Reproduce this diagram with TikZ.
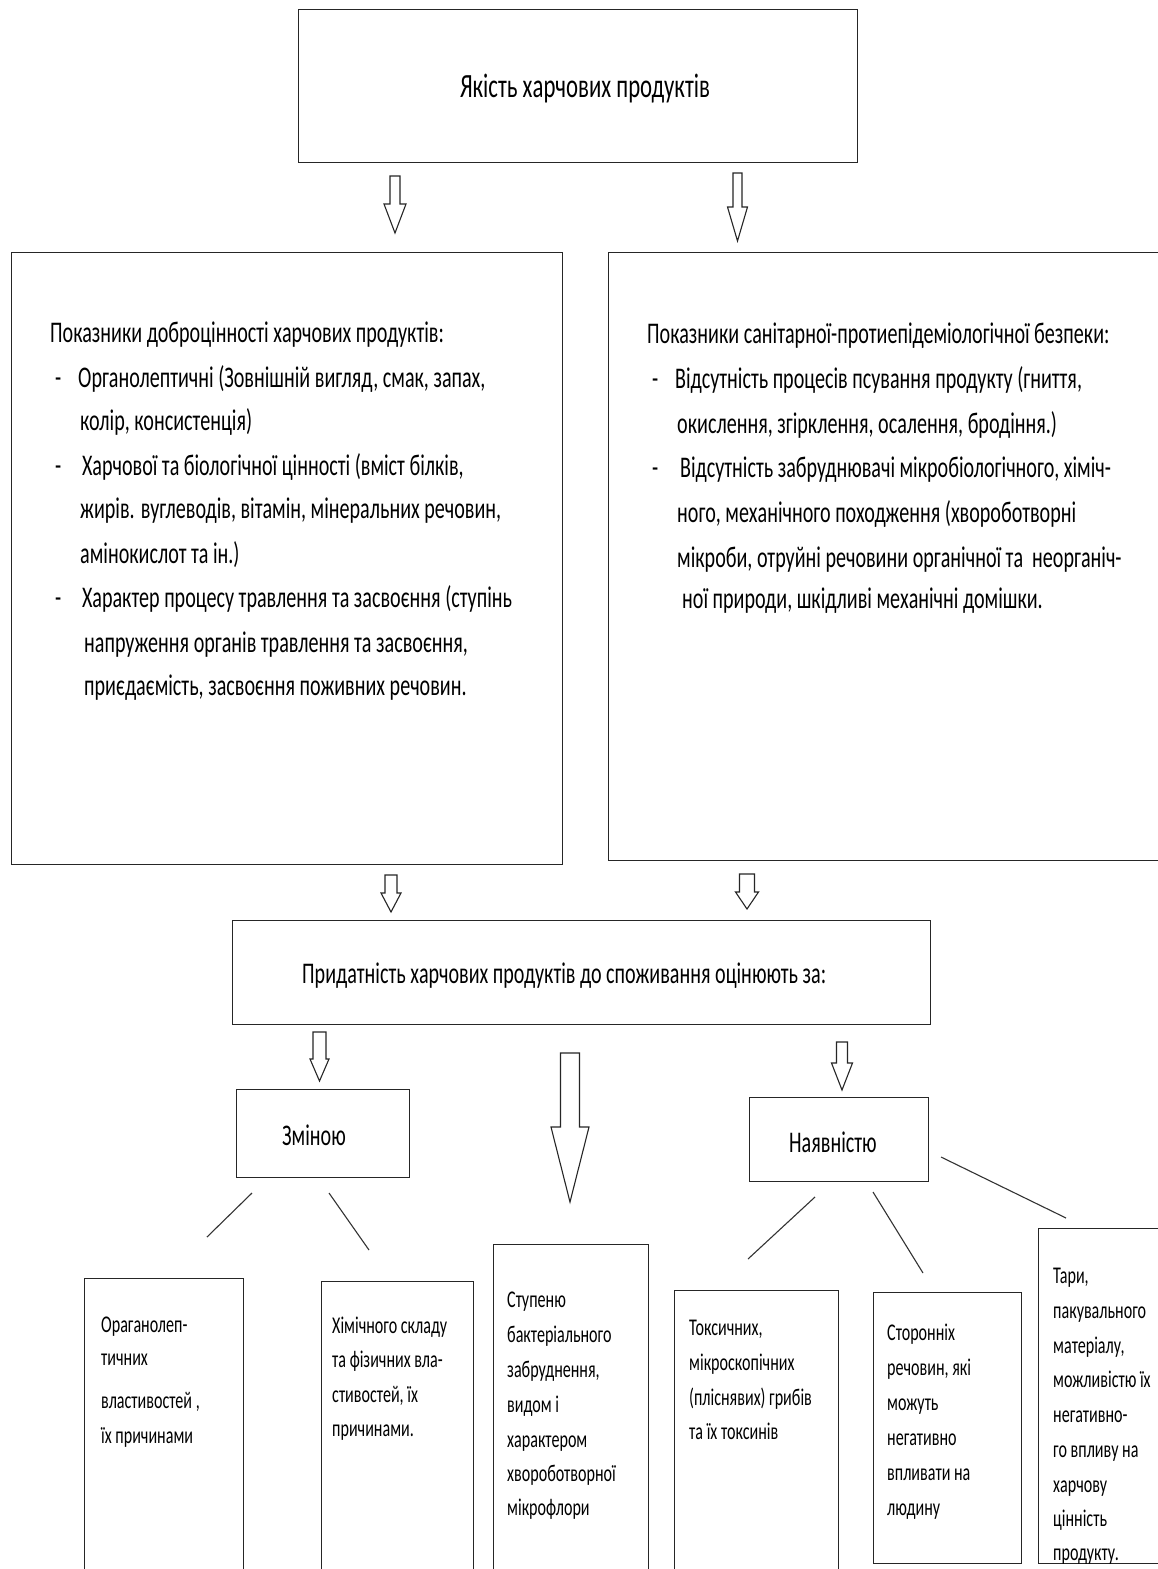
\documentclass[tikz,border=0pt]{standalone}
\usepackage{fontspec}
\setmainfont{Carlito}[FakeStretch=0.67]
\begin{document}
\begin{tikzpicture}[x=1pt,y=-1pt,
  box/.style={draw=black!85,line width=1.4pt,inner sep=0pt,anchor=north west},
  arr/.style={draw=black!85,line width=1.1pt,fill=white,line join=miter},
  link/.style={draw=black!80,line width=1.1pt},
  big/.style={font=\fontsize{30}{36}\selectfont,anchor=base west,inner sep=0pt},
  ttl/.style={font=\fontsize{34}{40}\selectfont,anchor=base,inner sep=0pt},
  sm/.style={font=\fontsize{24}{28}\selectfont,anchor=base west,inner sep=0pt}]
\useasboundingbox (0,0) rectangle (1158,1569);
\fill[white] (0,0) rectangle (1158,1569);
\newcommand\barrow[6]{\draw[arr] (#1-#5,#2) -- (#1+#5,#2) -- (#1+#5,#3) -- (#1+#6,#3) -- (#1,#4) -- (#1-#6,#3) -- (#1-#5,#3) -- cycle;}
% boxes
\node[box,minimum width=559pt,minimum height=153pt] (top) at (298,9) {};
\node[box,minimum width=551pt,minimum height=612pt] (left) at (11,252) {};
\node[box,minimum width=570pt,minimum height=608pt] (right) at (608,252) {};
\node[box,minimum width=698pt,minimum height=104pt] (mid) at (232,920) {};
\node[box,minimum width=173pt,minimum height=88pt] (zmin) at (236,1089) {};
\node[box,minimum width=179pt,minimum height=84pt] (nayav) at (749,1097) {};
\node[box,minimum width=159pt,minimum height=310pt] (b1) at (84,1278) {};
\node[box,minimum width=152pt,minimum height=310pt] (b2) at (321,1281) {};
\node[box,minimum width=155pt,minimum height=340pt] (b3) at (493,1244) {};
\node[box,minimum width=164pt,minimum height=300pt] (b4) at (674,1290) {};
\node[box,minimum width=148pt,minimum height=271pt] (b5) at (873,1292) {};
\node[box,minimum width=140pt,minimum height=335pt] (b6) at (1038,1228) {};
% title
\node[ttl] (t0) at (585,97) {Якість харчових продуктів};
% left text
\node[big] (l1) at (50,342) {Показники доброцінності харчових продуктів:};
\node[big] (l2d) at (55,387) {-};
\node[big] (l2) at (78,387) {Органолептичні (Зовнішній вигляд, смак, запах,};
\node[big] (l3) at (80,430) {колір, консистенція)};
\node[big] (l4d) at (55,475) {-};
\node[big] (l4) at (82,475) {Харчової та біологічної цінності (вміст білків,};
\node[big] (l5) at (80,518) {жирів. вуглеводів, вітамін, мінеральних речовин,};
\node[big] (l6) at (80,563) {амінокислот та ін.)};
\node[big] (l7d) at (55,607) {-};
\node[big] (l7) at (82,607) {Характер процесу травлення та засвоєння (ступінь};
\node[big] (l8) at (84,652) {напруження органів травлення та засвоєння,};
\node[big] (l9) at (84,695) {приєдаємість, засвоєння поживних речовин.};
% right text
\node[big] (r1) at (647,343) {Показники санітарної-протиепідеміологічної безпеки:};
\node[big] (r2d) at (652,388) {-};
\node[big] (r2) at (675,388) {Відсутність процесів псування продукту (гниття,};
\node[big] (r3) at (677,433) {окислення, згірклення, осалення, бродіння.)};
\node[big] (r4d) at (652,477) {-};
\node[big] (r4) at (680,477) {Відсутність забруднювачі мікробіологічного, хіміч-};
\node[big] (r5) at (677,522) {ного, механічного походження (хвороботворні};
\node[big] (r6) at (677,567) {мікроби, отруйні речовини органічної та\ \ неорганіч-};
\node[big] (r7) at (682,608) {ної природи, шкідливі механічні домішки.};
% middle
\node[big] (m1) at (302,983) {Придатність харчових продуктів до споживання оцінюють за:};
\node[big] (z1) at (282,1145) {Зміною};
\node[big] (n1) at (789,1152) {Наявністю};
% bottom texts
\node[sm] (a1) at (101,1332) {Ораганолеп-};
\node[sm] (a2) at (101,1365) {тичних};
\node[sm] (a3) at (101,1408) {властивостей ,};
\node[sm] (a4) at (101,1443) {їх причинами};
\node[sm] (c1) at (332,1333) {Хімічного складу};
\node[sm] (c2) at (332,1367) {та фізичних вла-};
\node[sm] (c3) at (332,1402) {стивостей, їх};
\node[sm] (c4) at (332,1436) {причинами.};
\node[sm] (s1) at (507,1307) {Ступеню};
\node[sm] (s2) at (507,1342) {бактеріального};
\node[sm] (s3) at (507,1377) {забруднення,};
\node[sm] (s4) at (507,1412) {видом і};
\node[sm] (s5) at (507,1447) {характером};
\node[sm] (s6) at (507,1481) {хвороботворної};
\node[sm] (s7) at (507,1515) {мікрофлори};
\node[sm] (k1) at (689,1335) {Токсичних,};
\node[sm] (k2) at (689,1370) {мікроскопічних};
\node[sm] (k3) at (689,1405) {(пліснявих) грибів};
\node[sm] (k4) at (689,1439) {та їх токсинів};
\node[sm] (o1) at (887,1340) {Сторонніх};
\node[sm] (o2) at (887,1375) {речовин, які};
\node[sm] (o3) at (887,1410) {можуть};
\node[sm] (o4) at (887,1445) {негативно};
\node[sm] (o5) at (887,1480) {впливати на};
\node[sm] (o6) at (887,1515) {людину};
\node[sm] (p1) at (1053,1283) {Тари,};
\node[sm] (p2) at (1053,1318) {пакувального};
\node[sm] (p3) at (1053,1353) {матеріалу,};
\node[sm] (p4) at (1053,1387) {можливістю їх};
\node[sm] (p5) at (1053,1422) {негативно-};
\node[sm] (p6) at (1053,1457) {го впливу на};
\node[sm] (p7) at (1053,1492) {харчову};
\node[sm] (p8) at (1053,1526) {цінність};
\node[sm] (p9) at (1053,1560) {продукту.};
% block arrows
\barrow{395}{176}{204}{233}{5}{11}
\barrow{737.5}{173}{207}{241}{4.5}{10}
\barrow{391}{875}{893}{912}{6}{10}
\barrow{747}{874}{892}{909}{7.5}{11.5}
\barrow{319.5}{1032}{1059}{1081}{6.5}{9.5}
\barrow{842}{1042}{1063}{1090}{5.5}{10.5}
\barrow{570}{1053}{1127}{1202}{9.5}{19}
% thin links
\coordinate (e1a) at (252,1193); \coordinate (e1b) at (207,1237);
\coordinate (e2a) at (329,1193); \coordinate (e2b) at (369,1250);
\coordinate (e3a) at (815,1197); \coordinate (e3b) at (748,1259);
\coordinate (e4a) at (873,1192); \coordinate (e4b) at (923,1273);
\coordinate (e5a) at (941,1157); \coordinate (e5b) at (1066,1218);
\draw[link] (e1a) -- (e1b);
\draw[link] (e2a) -- (e2b);
\draw[link] (e3a) -- (e3b);
\draw[link] (e4a) -- (e4b);
\draw[link] (e5a) -- (e5b);
\end{tikzpicture}
\end{document}
